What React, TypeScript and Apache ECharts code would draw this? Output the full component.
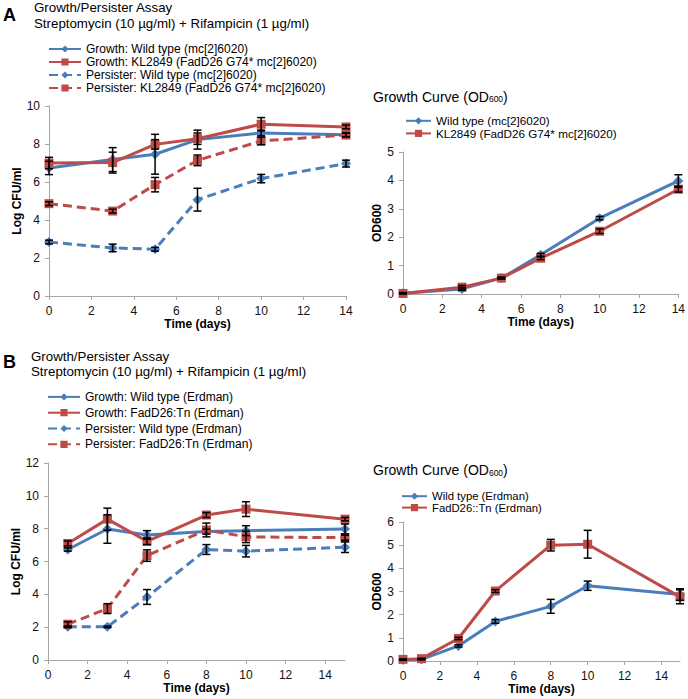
import React, { useEffect, useRef } from "react";
import * as echarts from "echarts";

// ---------- DATA ----------
const daysA = [0, 3, 5, 7, 10, 14];
const growthWT_A = [6.74, 7.18, 7.46, 8.23, 8.58, 8.49];
const growthWT_A_err = [0.35, 0.63, 1.05, 0.5, 0.15, 0.1];
const growthKL_A = [7.0, 7.02, 7.98, 8.28, 9.04, 8.9];
const growthKL_A_err = [0.3, 0.55, 0.25, 0.3, 0.35, 0.1];
const persWT_A = [2.84, 2.53, 2.46, 5.07, 6.18, 6.97];
const persWT_A_err = [0.1, 0.2, 0.1, 0.6, 0.22, 0.18];
const persKL_A = [4.86, 4.47, 5.86, 7.14, 8.16, 8.47];
const persKL_A_err = [0.1, 0.1, 0.38, 0.28, 0.2, 0.1];

const odWT_A = [0.03, 0.18, 0.56, 1.38, 2.67, 3.98];
const odWT_A_err = [0.02, 0.05, 0.03, 0.05, 0.06, 0.22];
const odKL_A = [0.02, 0.24, 0.56, 1.26, 2.21, 3.69];
const odKL_A_err = [0.02, 0.06, 0.03, 0.05, 0.08, 0.1];

const daysB = [1, 3, 5, 8, 10, 15];
const growthWT_B = [6.73, 7.98, 7.62, 7.82, 7.88, 7.98];
const growthWT_B_err = [0.1, 0.87, 0.26, 0.15, 0.3, 0.3];
const growthFad_B = [7.1, 8.58, 7.23, 8.83, 9.19, 8.58];
const growthFad_B_err = [0.15, 0.67, 0.2, 0.15, 0.45, 0.1];
const persWT_B = [2.02, 2.02, 3.84, 6.73, 6.63, 6.87];
const persWT_B_err = [0.05, 0.05, 0.45, 0.3, 0.35, 0.32];
const persFad_B = [2.18, 3.13, 6.36, 7.92, 7.5, 7.45];
const persFad_B_err = [0.15, 0.3, 0.35, 0.42, 0.35, 0.15];

const daysOD_B = [0, 1, 3, 5, 8, 10, 15];
const odWT_B = [0.05, 0.07, 0.65, 1.71, 2.36, 3.25, 2.87];
const odWT_B_err = [0.02, 0.02, 0.05, 0.08, 0.3, 0.2, 0.25];
const odFad_B = [0.07, 0.1, 0.97, 3.02, 5.0, 5.04, 2.77];
const odFad_B_err = [0.02, 0.02, 0.05, 0.06, 0.25, 0.6, 0.3];

const xTicks = [0, 2, 4, 6, 8, 10, 12, 14];

const namesA = [
  "Growth: Wild type (mc[2]6020)",
  "Growth: KL2849 (FadD26 G74* mc[2]6020)",
  "Persister: Wild type (mc[2]6020)",
  "Persister: KL2849 (FadD26 G74* mc[2]6020)",
];
const namesA2 = ["Wild type (mc[2]6020)", "KL2849 (FadD26 G74* mc[2]6020)"];
const namesB = [
  "Growth: Wild type (Erdman)",
  "Growth: FadD26:Tn (Erdman)",
  "Persister: Wild type (Erdman)",
  "Persister: FadD26:Tn (Erdman)",
];
const namesB2 = ["Wild type (Erdman)", "FadD26::Tn (Erdman)"];

// ---------- STYLE ----------
const FONT = "Liberation Sans, Arial, Helvetica, sans-serif";
const BLUE = "#4A7EBB";
const RED = "#BE4B48";
const AXIS = "#A6A6A6";

function lineSeries(name: string, xs: number[], ys: number[], color: string, symbol: string, dashed: boolean, idx: number) {
  return {
    type: "line",
    name,
    xAxisIndex: idx,
    yAxisIndex: idx,
    data: xs.map((x, i) => [x, ys[i]]),
    symbol,
    symbolSize: symbol === "diamond" ? 10 : 9,
    showSymbol: true,
    lineStyle: { color, width: 3, type: dashed ? [9, 5] : "solid" },
    itemStyle: { color },
    emphasis: { disabled: true },
    z: 2,
  };
}

function errSeries(xs: number[], ys: number[], es: number[], idx: number) {
  return {
    type: "custom",
    name: "err",
    xAxisIndex: idx,
    yAxisIndex: idx,
    data: xs.map((x, i) => [x, ys[i], es[i]]),
    encode: { x: 0, y: 1 },
    z: 5,
    silent: true,
    renderItem: (params: any, api: any) => {
      const x = api.value(0);
      const y = api.value(1);
      const e = api.value(2);
      const t = api.coord([x, y + e]);
      const b = api.coord([x, y - e]);
      const w = 4;
      const st = { stroke: "#000", lineWidth: 1.5 };
      return {
        type: "group",
        children: [
          { type: "line", shape: { x1: t[0], y1: t[1], x2: b[0], y2: b[1] }, style: st },
          { type: "line", shape: { x1: t[0] - w, y1: t[1], x2: t[0] + w, y2: t[1] }, style: st },
          { type: "line", shape: { x1: b[0] - w, y1: b[1], x2: b[0] + w, y2: b[1] }, style: st },
        ],
      };
    },
  };
}

function xAxis(idx: number, max: number) {
  return {
    type: "value",
    gridIndex: idx,
    min: 0,
    max,
    interval: 2,
    name: "Time (days)",
    nameLocation: "middle",
    nameGap: 22,
    nameTextStyle: { fontFamily: FONT, fontSize: 12, fontWeight: "bold", color: "#000" },
    axisLine: { show: true, onZero: false, lineStyle: { color: AXIS, width: 1 } },
    axisTick: { show: true, length: 4, lineStyle: { color: AXIS }, customValues: xTicks },
    axisLabel: { fontFamily: FONT, fontSize: 12, color: "#111", margin: 9, customValues: xTicks },
    splitLine: { show: false },
  };
}

function yAxis(idx: number, max: number, interval: number, name: string, gap: number) {
  return {
    type: "value",
    gridIndex: idx,
    min: 0,
    max,
    interval,
    name,
    nameLocation: "middle",
    nameGap: gap,
    nameTextStyle: { fontFamily: FONT, fontSize: 12, fontWeight: "bold", color: "#000" },
    axisLine: { show: true, lineStyle: { color: AXIS, width: 1 } },
    axisTick: { show: true, length: 4, lineStyle: { color: AXIS } },
    axisLabel: { fontFamily: FONT, fontSize: 12, color: "#111", margin: 9 },
    splitLine: { show: false },
  };
}

function legend(data: string[], left: number, top: number, iw: number, lh: number, fs: number) {
  return {
    data,
    left,
    top,
    orient: "vertical",
    itemWidth: iw,
    itemHeight: 9,
    itemGap: 0,
    padding: 0,
    selectedMode: false,
    textStyle: { fontFamily: FONT, fontSize: fs, color: "#000", lineHeight: lh },
  };
}

function txt(x: number, y: number, text: string, font: string) {
  return {
    type: "text",
    x,
    y,
    style: { text, font, fill: "#000", align: "left", verticalAlign: "middle" },
  };
}

function odTitle(x: number, y: number) {
  return {
    type: "text",
    x,
    y,
    style: {
      text: "{a|Growth Curve (OD}{s|600}{a|)}",
      fill: "#000",
      align: "left",
      verticalAlign: "middle",
      rich: {
        a: { fontFamily: FONT, fontSize: 14, lineHeight: 14, verticalAlign: "bottom" },
        s: { fontFamily: FONT, fontSize: 8.5, lineHeight: 8, verticalAlign: "bottom" },
      },
    },
  };
}

export default function App() {
  const ref = useRef<HTMLDivElement>(null);
  useEffect(() => {
    document.body.style.margin = "0";
    if (!ref.current) return;
    const chart = echarts.init(ref.current, null, { renderer: "svg" });
    const option: any = {
      animation: false,
      backgroundColor: "#fff",
      grid: [
        { left: 49, top: 106, width: 297, height: 190 },
        { left: 403, top: 152, width: 277, height: 142 },
        { left: 48, top: 463, width: 297, height: 197 },
        { left: 403, top: 522, width: 277, height: 139 },
      ],
      xAxis: [xAxis(0, 14), xAxis(1, 14), xAxis(2, 15), xAxis(3, 15)],
      yAxis: [
        yAxis(0, 10, 2, "Log CFU/ml", 26),
        yAxis(1, 5, 1, "OD600", 20),
        yAxis(2, 12, 2, "Log CFU/ml", 26),
        yAxis(3, 6, 1, "OD600", 20),
      ],
      legend: [
        legend(namesA, 48, 42.5, 32, 13, 12),
        legend(namesA2, 405, 114.5, 25, 12.6, 11.7),
        legend(namesB, 47, 389, 32, 15.8, 12),
        legend(namesB2, 401, 490.5, 25, 11.4, 11.3),
      ],
      graphic: [
        txt(3, 15, "A", "bold 18px " + FONT),
        txt(34, 7.5, "Growth/Persister Assay", "13.3px " + FONT),
        txt(34, 23.3, "Streptomycin (10 µg/ml) + Rifampicin (1 µg/ml)", "13.3px " + FONT),
        txt(3, 361.7, "B", "bold 18px " + FONT),
        txt(31, 356, "Growth/Persister Assay", "13.3px " + FONT),
        txt(31, 371.7, "Streptomycin (10 µg/ml) + Rifampicin (1 µg/ml)", "13.3px " + FONT),
        odTitle(373, 96.7),
        odTitle(373, 470),
      ],
      series: [
        lineSeries(namesA[0], daysA, growthWT_A, BLUE, "diamond", false, 0),
        lineSeries(namesA[1], daysA, growthKL_A, RED, "rect", false, 0),
        lineSeries(namesA[2], daysA, persWT_A, BLUE, "diamond", true, 0),
        lineSeries(namesA[3], daysA, persKL_A, RED, "rect", true, 0),
        errSeries(daysA, growthWT_A, growthWT_A_err, 0),
        errSeries(daysA, growthKL_A, growthKL_A_err, 0),
        errSeries(daysA, persWT_A, persWT_A_err, 0),
        errSeries(daysA, persKL_A, persKL_A_err, 0),

        lineSeries(namesA2[0], daysA, odWT_A, BLUE, "diamond", false, 1),
        lineSeries(namesA2[1], daysA, odKL_A, RED, "rect", false, 1),
        errSeries(daysA, odWT_A, odWT_A_err, 1),
        errSeries(daysA, odKL_A, odKL_A_err, 1),

        lineSeries(namesB[0], daysB, growthWT_B, BLUE, "diamond", false, 2),
        lineSeries(namesB[1], daysB, growthFad_B, RED, "rect", false, 2),
        lineSeries(namesB[2], daysB, persWT_B, BLUE, "diamond", true, 2),
        lineSeries(namesB[3], daysB, persFad_B, RED, "rect", true, 2),
        errSeries(daysB, growthWT_B, growthWT_B_err, 2),
        errSeries(daysB, growthFad_B, growthFad_B_err, 2),
        errSeries(daysB, persWT_B, persWT_B_err, 2),
        errSeries(daysB, persFad_B, persFad_B_err, 2),

        lineSeries(namesB2[0], daysOD_B, odWT_B, BLUE, "diamond", false, 3),
        lineSeries(namesB2[1], daysOD_B, odFad_B, RED, "rect", false, 3),
        errSeries(daysOD_B, odWT_B, odWT_B_err, 3),
        errSeries(daysOD_B, odFad_B, odFad_B_err, 3),
      ],
    };
    chart.setOption(option);
    return () => chart.dispose();
  }, []);
  return <div ref={ref} style={{ width: 688, height: 699 }} />;
}
